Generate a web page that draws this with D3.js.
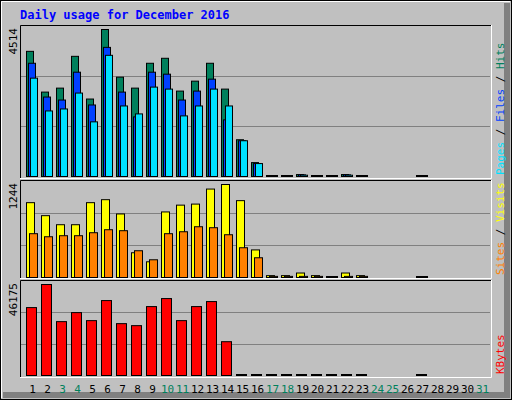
<!DOCTYPE html>
<html><head><meta charset="utf-8">
<script src="https://cdn.jsdelivr.net/npm/d3@7"></script>
<style>body{margin:0;background:#fff}text{font-family:"DejaVu Sans Mono",monospace}</style>
</head><body><div id="chart"></div>
<script>
const days = d3.range(1, 32);
const weekendDays = [3, 4, 10, 11, 17, 18, 24, 25, 31];
// values (0 = no bar drawn)
const hits   = [3843,2592,2714,3690,2379,4514,3050,2714,3477,3630,2623,2928,3477,2684,1129,427,10,10,60,10,10,60,10,0,0,0,10,0,0,0,0];
const files  = [3477,2440,2348,3203,2196,3965,2592,1830,3203,3142,2348,2623,2989,1739,1098,397,8,8,50,8,8,50,8,0,0,0,8,0,0,0,0];
const pages  = [3020,2013,2074,2562,1678,3721,2166,1922,2745,2684,1861,2166,2684,2166,1098,397,5,5,40,5,5,40,5,0,0,0,5,0,0,0,0];
const visits = [1001,827,706,706,1001,1041,850,331,210,877,968,982,1183,1244,1028,369,25,25,60,25,10,60,25,0,0,0,10,0,0,0,0];
const sites  = [586,545,559,559,599,639,626,358,237,586,612,679,666,572,398,264,15,15,15,15,10,15,15,0,0,0,10,0,0,0,0];
const kbytes = [34459,46175,27333,31914,27842,38022,26315,25297,34968,39040,27842,34968,37513,17153,100,100,50,50,50,50,50,50,50,0,0,0,50,0,0,0,0];
const maxLabels = ["4514", "1244", "46175"];

const W = 512, H = 400;
const svg = d3.select("#chart").append("svg").attr("width", W).attr("height", H);

// background + 3D border
svg.append("rect").attr("x", 0).attr("y", 0).attr("width", W).attr("height", H).attr("fill", "#c0c0c0");
svg.append("rect").attr("x", 0.5).attr("y", 0.5).attr("width", W - 1).attr("height", H - 1).attr("fill", "none").attr("stroke", "#000");
svg.append("path").attr("d", `M${W-5},3V${H-5}H3`).attr("stroke", "#808080").attr("stroke-width", 6).attr("fill", "none");
svg.append("path").attr("d", `M1.5,${H-2}V1.5H${W-2}`).attr("stroke", "#fff").attr("fill", "none");

svg.append("text").attr("x", 20).attr("y", 19).attr("fill", "#0000ff")
    .style("font-size", "12px").style("font-weight", "bold")
    .text("Daily usage for December 2016");

const x = d3.scaleBand().domain(days).range([24, 489]);
const left = 20, right = 491;

const panels = [
    { top: 25, bottom: 179, base: 176, maxY: 29, max: 4514,
      series: [{v: hits, c: "#00805c", off: 2, w: 7}, {v: files, c: "#0040ff", off: 4, w: 7}, {v: pages, c: "#00e0ff", off: 6, w: 7}],
      label: [["Pages", "#00e0ff"], [" / ", "#000"], ["Files", "#0040ff"], [" / ", "#000"], ["Hits", "#00805c"]] },
    { top: 180, bottom: 279, base: 277, maxY: 184, max: 1244,
      series: [{v: visits, c: "#ffff00", off: 2, w: 8}, {v: sites, c: "#ff8000", off: 5, w: 8}],
      label: [["Sites", "#ff8000"], [" / ", "#000"], ["Visits", "#ffff00"]] },
    { top: 280, bottom: 378, base: 375, maxY: 284, max: 46175,
      series: [{v: kbytes, c: "#ff0000", off: 2, w: 10}],
      label: [["KBytes", "#ff0000"]] }
];

panels.forEach((p, pi) => {
    const y = d3.scaleLinear().domain([0, p.max]).range([p.base, p.maxY]);
    // panel frame (inset)
    svg.append("path").attr("d", `M${left+0.5},${p.bottom}V${p.top+0.5}H${right}`).attr("stroke", "#000").attr("fill", "none");
    svg.append("path").attr("d", `M${left},${p.bottom-0.5}H${right+0.5}V${p.top}`).attr("stroke", "#fff").attr("fill", "none");
    // gridlines at 1/3 and 2/3
    const span = p.base - (p.top + 1);
    [1, 2].forEach(k => {
        const gy = Math.round(p.base - span * k / 3) + 0.5;
        svg.append("line").attr("x1", left + 1).attr("x2", right - 1).attr("y1", gy).attr("y2", gy)
            .attr("stroke", "#808080");
    });
    p.series.forEach(s => {
        svg.append("g").selectAll("rect").data(days.filter((d, i) => s.v[i] > 0)).enter().append("rect")
            .attr("x", d => x(d) + s.off + 0.5)
            .attr("y", d => Math.min(y(s.v[d - 1]), p.base - 1) + 0.5)
            .attr("width", s.w)
            .attr("height", d => Math.max(1, p.base - y(s.v[d - 1])))
            .attr("fill", s.c).attr("stroke", "#000");
    });
    // max value label
    svg.append("text").attr("transform", `translate(17,${p.top + 3}) rotate(-90)`)
        .attr("text-anchor", "end").style("font-size", "11px").attr("fill", "#000")
        .text(maxLabels[pi]);
    // series legend on the right
    const t = svg.append("text").attr("transform", `translate(504,${p.bottom - 4}) rotate(-90)`)
        .style("font-size", "11px");
    p.label.forEach(([s, c]) => t.append("tspan").attr("fill", c).text(s));
});

// day labels
svg.append("g").selectAll("text").data(days).enter().append("text")
    .attr("x", d => x(d) + x.bandwidth() / 2 + 1)
    .attr("y", 393).attr("text-anchor", "middle").style("font-size", "11px")
    .attr("fill", d => weekendDays.includes(d) ? "#00805c" : "#000")
    .text(d => d);
</script></body></html>
